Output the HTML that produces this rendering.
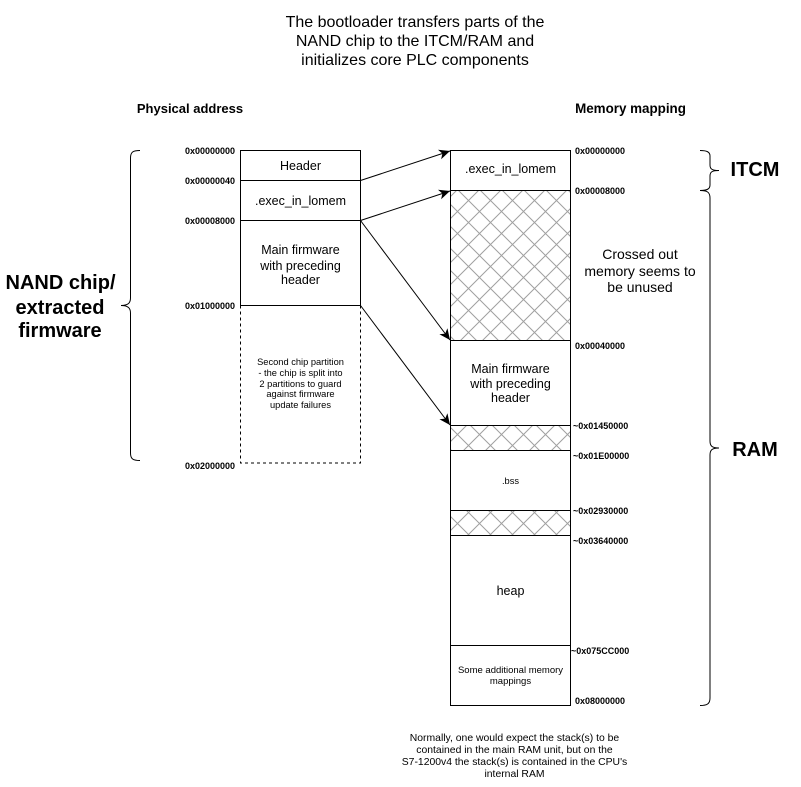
<!DOCTYPE html>
<html><head><meta charset="utf-8"><style>
html,body{margin:0;padding:0;background:#fff}
svg{display:block}
text{font-family:"Liberation Sans",Arial,sans-serif;fill:#000}
.a{font-size:9px;font-weight:bold}
.b{font-weight:bold;font-size:20px}
</style></head><body>
<svg width="801" height="787" viewBox="0 0 801 787" xmlns="http://www.w3.org/2000/svg">
<defs>
<pattern id="h1" width="22" height="22" patternUnits="userSpaceOnUse" x="457.5" y="211.5">
<path d="M0 0L22 22M22 0L0 22" stroke="#a0a0a0" stroke-width="1" fill="none"/>
</pattern>
<pattern id="h2" width="22" height="22" patternUnits="userSpaceOnUse" x="457.5" y="434.5">
<path d="M0 0L22 22M22 0L0 22" stroke="#a0a0a0" stroke-width="1" fill="none"/>
</pattern>
<pattern id="h3" width="22" height="22" patternUnits="userSpaceOnUse" x="457.5" y="523.5">
<path d="M0 0L22 22M22 0L0 22" stroke="#a0a0a0" stroke-width="1" fill="none"/>
</pattern>
<marker id="ar" markerUnits="userSpaceOnUse" markerWidth="14" markerHeight="12" refX="11" refY="5" orient="auto">
<path d="M0 0L11 5L0 10L3 5Z" fill="#000"/>
</marker>
</defs>
<rect width="801" height="787" fill="#fff"/>

<g text-anchor="middle">
<text x="415" y="27" font-size="16">The bootloader transfers parts of the</text>
<text x="415" y="46" font-size="16">NAND chip to the ITCM/RAM and</text>
<text x="415" y="65" font-size="16">initializes core PLC components</text>
</g>
<text x="190" y="113" text-anchor="middle" font-size="13" font-weight="bold">Physical address</text>
<text x="630.5" y="113" text-anchor="middle" font-size="13.4" font-weight="bold">Memory mapping</text>

<!-- left column -->
<g fill="none" stroke="#000">
<rect x="240.5" y="150.5" width="120" height="30" fill="#fff"/>
<rect x="240.5" y="180.5" width="120" height="40" fill="#fff"/>
<rect x="240.5" y="220.5" width="120" height="85" fill="#fff"/>
<rect x="240.5" y="305.5" width="120" height="157.5" stroke-dasharray="3 3" fill="#fff"/>
<line x1="240" y1="305.5" x2="361" y2="305.5"/>
</g>
<g text-anchor="middle">
<text x="300.5" y="170" font-size="12.5">Header</text>
<text x="300.5" y="205" font-size="12.5">.exec_in_lomem</text>
<text x="300.5" y="254" font-size="12.5">Main firmware</text>
<text x="300.5" y="270" font-size="12.5">with preceding</text>
<text x="300.5" y="284" font-size="12.5">header</text>
<text x="300.5" y="365" font-size="9.3">Second chip partition</text>
<text x="300.5" y="376" font-size="9.3">- the chip is split into</text>
<text x="300.5" y="387" font-size="9.3">2 partitions to guard</text>
<text x="300.5" y="397" font-size="9.3">against firmware</text>
<text x="300.5" y="408" font-size="9.3">update failures</text>
</g>
<g class="a">
<text x="185" y="154">0x00000000</text>
<text x="185" y="184">0x00000040</text>
<text x="185" y="224">0x00008000</text>
<text x="185" y="309">0x01000000</text>
<text x="185" y="469">0x02000000</text>
</g>

<!-- right column -->
<g stroke="#000">
<rect x="450.5" y="150.5" width="120" height="40" fill="#fff"/>
<rect x="450.5" y="190.5" width="120" height="150" fill="url(#h1)"/>
<rect x="450.5" y="340.5" width="120" height="85" fill="#fff"/>
<rect x="450.5" y="425.5" width="120" height="25" fill="url(#h2)"/>
<rect x="450.5" y="450.5" width="120" height="60" fill="#fff"/>
<rect x="450.5" y="510.5" width="120" height="25" fill="url(#h3)"/>
<rect x="450.5" y="535.5" width="120" height="110" fill="#fff"/>
<rect x="450.5" y="645.5" width="120" height="60" fill="#fff"/>
</g>
<g text-anchor="middle">
<text x="510.5" y="173" font-size="12.5">.exec_in_lomem</text>
<text x="510.5" y="373" font-size="12.5">Main firmware</text>
<text x="510.5" y="388" font-size="12.5">with preceding</text>
<text x="510.5" y="402" font-size="12.5">header</text>
<text x="510.5" y="484" font-size="9.3">.bss</text>
<text x="510.5" y="595" font-size="12.5">heap</text>
<text x="510.5" y="673" font-size="9.5">Some additional memory</text>
<text x="510.5" y="684" font-size="9.5">mappings</text>
<text x="640" y="259" font-size="14">Crossed out</text>
<text x="640" y="276" font-size="14">memory seems to</text>
<text x="640" y="292" font-size="14">be unused</text>
</g>
<g class="a">
<text x="575" y="154">0x00000000</text>
<text x="575" y="194">0x00008000</text>
<text x="575" y="349">0x00040000</text>
<text x="573" y="429">~0x01450000</text>
<text x="573" y="459">~0x01E00000</text>
<text x="573" y="514">~0x02930000</text>
<text x="573" y="544">~0x03640000</text>
<text x="571" y="654">~0x075CC000</text>
<text x="575" y="704">0x08000000</text>
</g>

<!-- arrows -->
<g stroke="#000" fill="none">
<line x1="360.5" y1="180.5" x2="450" y2="151" marker-end="url(#ar)"/>
<line x1="360.5" y1="220.5" x2="450" y2="191" marker-end="url(#ar)"/>
<line x1="360.5" y1="220.5" x2="450" y2="340" marker-end="url(#ar)"/>
<line x1="360.5" y1="305.5" x2="450" y2="425" marker-end="url(#ar)"/>
</g>

<!-- braces -->
<g fill="none" stroke="#000">
<path d="M140 150.5C133 150.5 130.5 152 130.5 158V298C130.5 303 128 305.5 121 305.5C128 305.5 130.5 308 130.5 313V453C130.5 459 133 460.5 140 460.5"/>
<path d="M700 150.5C707 150.5 710 152 710 156V165C710 169 712 170.5 719 170.5C712 170.5 710 172 710 176V185C710 189 707 190.5 700 190.5"/>
<path d="M700 190.5C707 190.5 710 192 710 198V441C710 446 712 448 719 448C712 448 710 450 710 455V698C710 704 707 705.5 700 705.5"/>
</g>

<g text-anchor="middle">
<text x="60.5" y="289" class="b">NAND chip/</text>
<text x="60" y="314" class="b">extracted</text>
<text x="60" y="337" class="b">firmware</text>
<text x="755" y="176" class="b">ITCM</text>
<text x="755" y="456" class="b">RAM</text>
<text x="514.5" y="741" font-size="10.4">Normally, one would expect the stack(s) to be</text>
<text x="514.5" y="753" font-size="10.4">contained in the main RAM unit, but on the</text>
<text x="514.5" y="765" font-size="10.4">S7-1200v4 the stack(s) is contained in the CPU's</text>
<text x="514.5" y="777" font-size="10.4">internal RAM</text>
</g>
</svg>
</body></html>
